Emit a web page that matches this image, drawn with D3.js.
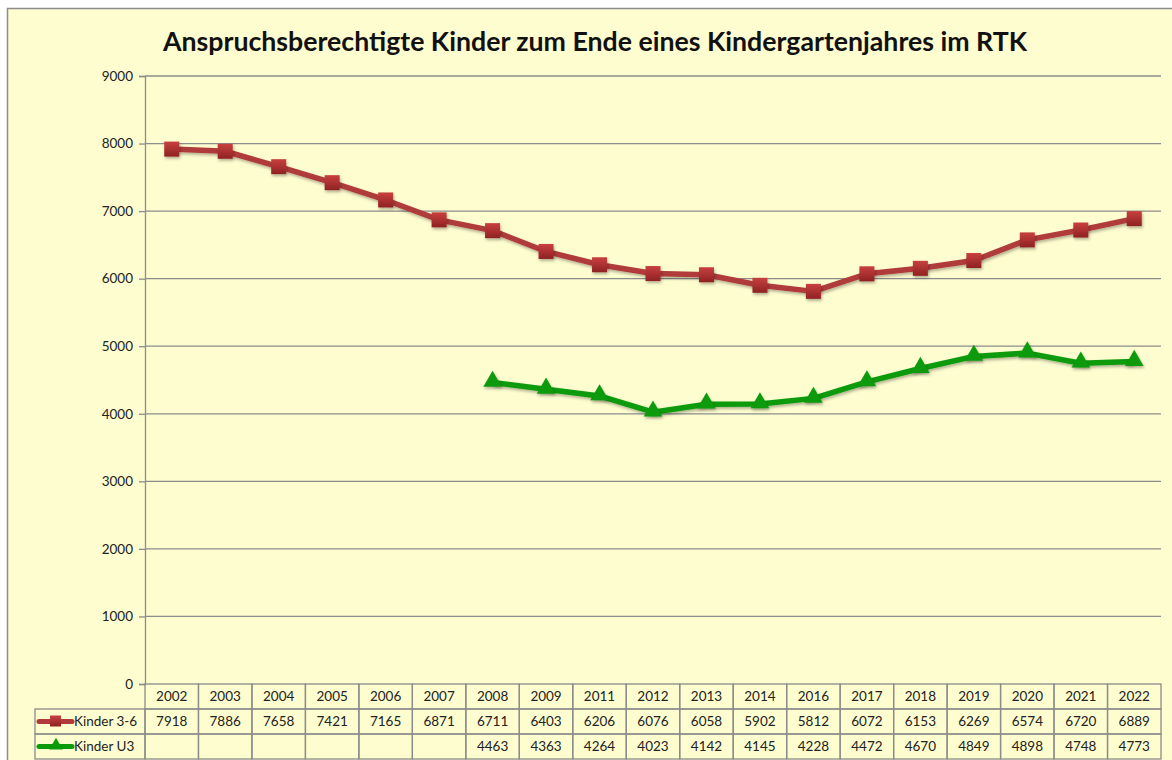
<!DOCTYPE html>
<html>
<head>
<meta charset="utf-8">
<script src="https://cdn.jsdelivr.net/npm/d3@7"></script>
<style>
  body { margin: 0; background: #fff; }
  text { font-family: Lato, "Open Sans", sans-serif; }
</style>
</head>
<body>
<script>
// Daten
const jahre = ["2002", "2003", "2004", "2005", "2006", "2007", "2008", "2009", "2011", "2012",
  "2013", "2014", "2016", "2017", "2018", "2019", "2020", "2021", "2022"];
const kinder36 = [7918, 7886, 7658, 7421, 7165, 6871, 6711, 6403, 6206, 6076,
  6058, 5902, 5812, 6072, 6153, 6269, 6574, 6720, 6889];
const kinderU3 = [null, null, null, null, null, null, 4463, 4363, 4264, 4023,
  4142, 4145, 4228, 4472, 4670, 4849, 4898, 4748, 4773];
const yTicks = [0, 1000, 2000, 3000, 4000, 5000, 6000, 7000, 8000, 9000];

const W = 1172, H = 760;
const plotL = 145, plotR = 1161, plotT = 76, plotB = 684;
const rowH = 25;

const svg = d3.select("body").append("svg").attr("width", W).attr("height", H);

const defs = svg.append("defs");
const shadow = defs.append("filter").attr("id", "sh").attr("x", "-50%").attr("y", "-50%")
  .attr("width", "200%").attr("height", "200%");
shadow.append("feDropShadow").attr("dx", 1).attr("dy", 2).attr("stdDeviation", 1.5)
  .attr("flood-color", "#000").attr("flood-opacity", 0.3);
const gr = defs.append("linearGradient").attr("id", "gRed").attr("x1", 0).attr("y1", 0).attr("x2", 0).attr("y2", 1);
gr.append("stop").attr("offset", "0%").attr("stop-color", "#c8403f");
gr.append("stop").attr("offset", "100%").attr("stop-color", "#8f2222");

// Hintergrund
svg.append("rect").attr("x", 7.5).attr("y", 8.5).attr("width", W).attr("height", H)
  .attr("fill", "#fefdcf").attr("stroke", "#8c8c8c").attr("stroke-width", 1.5);

const x = d3.scaleBand().domain(jahre).range([plotL, plotR]);
const y = d3.scaleLinear().domain([0, 9000]).range([plotB, plotT]);

// Titel
svg.append("text").attr("x", 595).attr("y", 51).attr("text-anchor", "middle")
  .attr("font-size", 26).attr("font-weight", "bold").attr("fill", "#111")
  .attr("textLength", 864).attr("lengthAdjust", "spacingAndGlyphs")
  .text("Anspruchsberechtigte Kinder zum Ende eines Kindergartenjahres im RTK");

// Gitterlinien
svg.append("g").selectAll("line").data(yTicks.slice(1)).enter().append("line")
  .attr("x1", plotL).attr("x2", plotR)
  .attr("y1", d => y(d)).attr("y2", d => y(d))
  .attr("stroke", "#8c8c8c").attr("stroke-width", 1.3);

// Y-Achse
const yAxis = svg.append("g").attr("transform", `translate(${plotL},0)`)
  .call(d3.axisLeft(y).tickValues(yTicks).tickSize(6).tickPadding(6).tickFormat(d3.format("d")));
yAxis.select(".domain").attr("stroke", "#8c8c8c").attr("stroke-width", 1.3);
yAxis.selectAll(".tick line").attr("stroke", "#8c8c8c").attr("stroke-width", 1.3);
yAxis.selectAll(".tick text").attr("font-size", 13.5).attr("fill", "#222")
  .attr("font-family", "Lato, sans-serif");

// Linien
const cx = d => x(d) + x.bandwidth() / 2;
const line = d3.line().defined(d => d[1] != null).x(d => cx(d[0])).y(d => y(d[1]));

const series = [
  { name: "Kinder 3-6", values: kinder36, color: "#b03a3a", mark: "square" },
  { name: "Kinder U3", values: kinderU3, color: "#0a9a0a", mark: "triangle" }
];

series.forEach(s => {
  const pts = jahre.map((j, i) => [j, s.values[i]]);
  svg.append("path").datum(pts).attr("d", line)
    .attr("fill", "none").attr("stroke", s.color).attr("stroke-width", 5.5)
    .attr("stroke-linejoin", "round").attr("filter", "url(#sh)");
  const valid = pts.filter(d => d[1] != null);
  if (s.mark === "square") {
    svg.append("g").selectAll("rect").data(valid).enter().append("rect")
      .attr("x", d => cx(d[0]) - 7.5).attr("y", d => y(d[1]) - 7.5)
      .attr("width", 15).attr("height", 15)
      .attr("fill", "url(#gRed)").attr("filter", "url(#sh)");
  } else {
    svg.append("g").selectAll("path").data(valid).enter().append("path")
      .attr("d", d3.symbol().type(d3.symbolTriangle).size(150))
      .attr("transform", d => `translate(${cx(d[0])},${y(d[1]) - 1})`)
      .attr("fill", "#0a9a0a").attr("filter", "url(#sh)");
  }
});

// Datentabelle
const tab = svg.append("g");
const gridCol = "#8c8c8c";
const tableLeft = 35;
// Kopfzeile
tab.selectAll("rect.h").data(jahre).enter().append("rect")
  .attr("x", d => x(d)).attr("y", plotB).attr("width", x.bandwidth()).attr("height", rowH)
  .attr("fill", "none").attr("stroke", gridCol).attr("stroke-width", 1.3);
tab.selectAll("text.h").data(jahre).enter().append("text")
  .attr("x", d => cx(d)).attr("y", plotB + 17).attr("text-anchor", "middle")
  .attr("font-size", 13.5).attr("fill", "#222").text(d => d);

series.forEach((s, si) => {
  const ry = plotB + rowH * (si + 1);
  tab.append("rect").attr("x", tableLeft).attr("y", ry).attr("width", plotL - tableLeft).attr("height", rowH)
    .attr("fill", "none").attr("stroke", gridCol).attr("stroke-width", 1.3);
  tab.append("g").selectAll("rect").data(jahre).enter().append("rect")
    .attr("x", d => x(d)).attr("y", ry).attr("width", x.bandwidth()).attr("height", rowH)
    .attr("fill", "none").attr("stroke", gridCol).attr("stroke-width", 1.3);
  tab.append("g").selectAll("text").data(jahre.map((j, i) => [j, s.values[i]]).filter(d => d[1] != null))
    .enter().append("text")
    .attr("x", d => cx(d[0])).attr("y", ry + 17).attr("text-anchor", "middle")
    .attr("font-size", 13.5).attr("fill", "#222").text(d => d[1]);
  // Legendenschlüssel
  const ky = ry + rowH / 2;
  tab.append("line").attr("x1", 39).attr("x2", 72).attr("y1", ky).attr("y2", ky)
    .attr("stroke", s.color).attr("stroke-width", 5).attr("stroke-linecap", "round");
  if (s.mark === "square") {
    tab.append("rect").attr("x", 50).attr("y", ky - 6).attr("width", 11).attr("height", 11)
      .attr("fill", "url(#gRed)");
  } else {
    tab.append("path").attr("d", d3.symbol().type(d3.symbolTriangle).size(80))
      .attr("transform", `translate(56,${ky - 1})`).attr("fill", "#0a9a0a");
  }
  tab.append("text").attr("x", 74).attr("y", ry + 17).attr("font-size", 13.5).attr("fill", "#222").text(s.name);
});
</script>
</body>
</html>
